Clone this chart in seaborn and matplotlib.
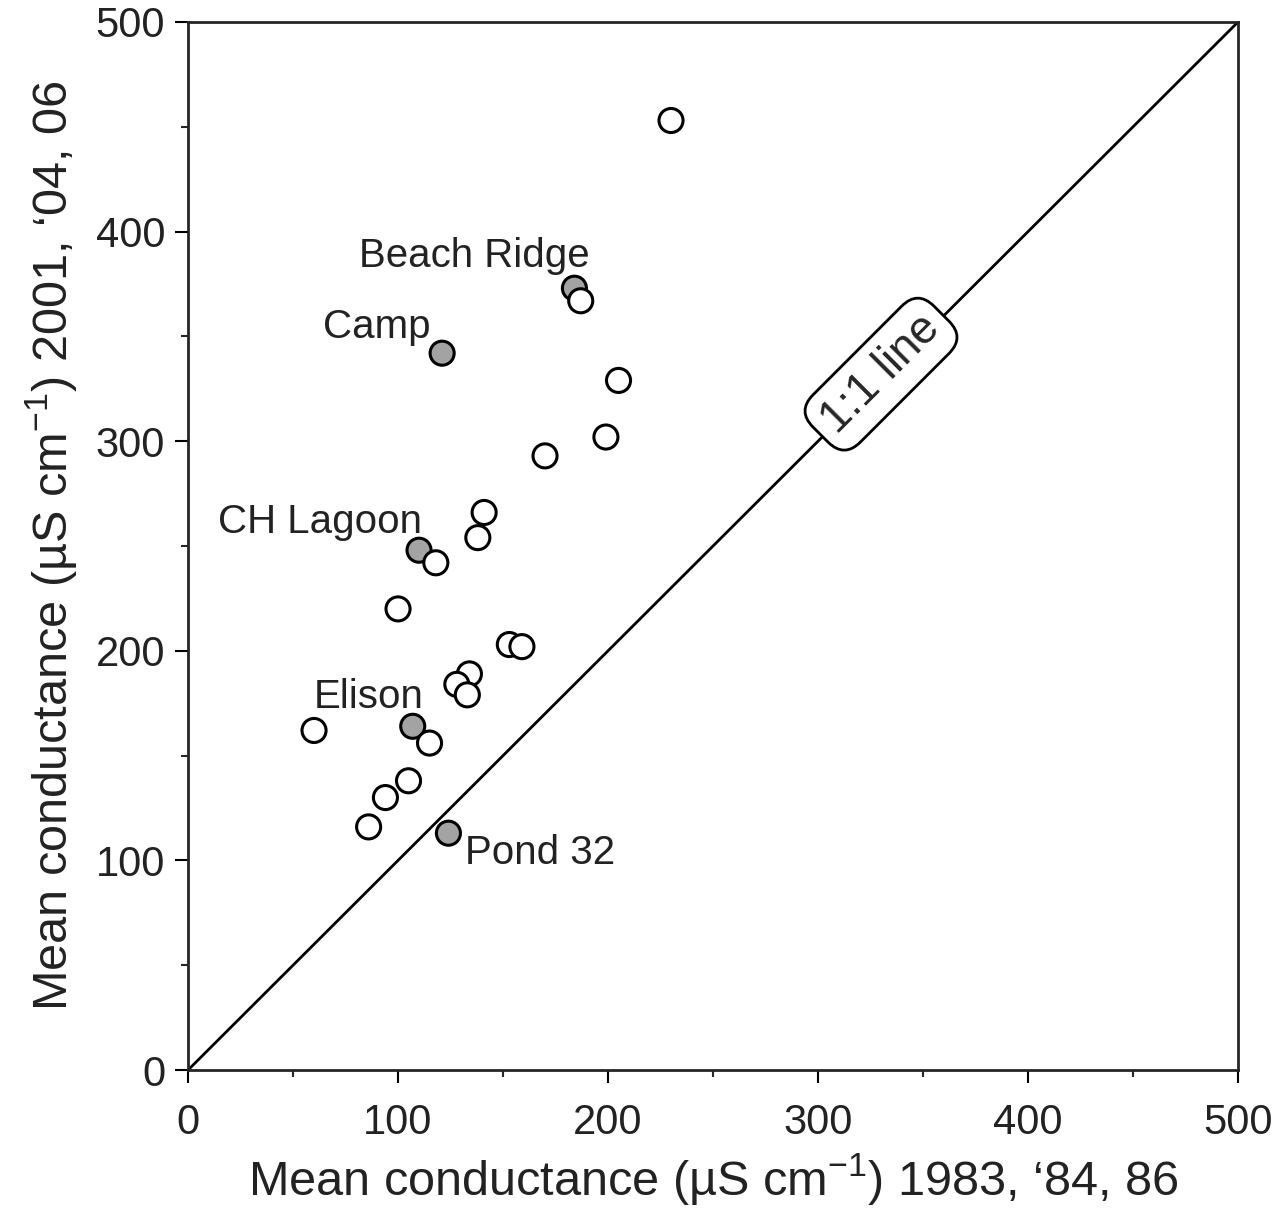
import pandas as pd
import matplotlib.pyplot as plt
import seaborn as sns
from matplotlib.ticker import MultipleLocator

# Lagos nomeados (pontos cinzas)
nomes = ["Beach Ridge", "Camp", "CH Lagoon", "Elison", "Pond 32"]
x_nomes = [184, 121, 110, 107, 124]
y_nomes = [373, 342, 248, 164, 113]

# Demais lagos (pontos abertos)
x_outros = [230, 187, 205, 199, 170, 141, 138, 118, 100, 153, 159, 134, 128, 133,
            60, 115, 105, 94, 86]
y_outros = [453, 367, 329, 302, 293, 266, 254, 242, 220, 203, 202, 189, 184, 179,
            162, 156, 138, 130, 116]

# deslocamento dos rótulos (pontos)
desloc = [(-72, 23), (-47, 19), (-71, 20), (-32, 21), (66, -14)]

df = pd.DataFrame({
    "x": x_nomes + x_outros,
    "y": y_nomes + y_outros,
    "tipo": ["nomeado"] * len(x_nomes) + ["outro"] * len(x_outros),
})

sns.set_style("ticks")
plt.rcParams["font.family"] = ["Liberation Sans", "DejaVu Sans"]
plt.rcParams["mathtext.fontset"] = "custom"
plt.rcParams["mathtext.rm"] = "Liberation Sans"

fig = plt.figure(figsize=(12.8, 12.15), dpi=100)
ax = fig.add_axes([0.1469, 0.1193, 0.8203, 0.8626])

ax.plot([0, 500], [0, 500], color="black", lw=2, zorder=1)

sns.scatterplot(data=df, x="x", y="y", hue="tipo",
                palette={"nomeado": "#a3a3a3", "outro": "white"},
                edgecolor="black", linewidth=2.2, s=300, legend=False,
                ax=ax, zorder=3)

for nome, xv, yv, d in zip(nomes, x_nomes, y_nomes, desloc):
    ax.annotate(nome, (xv, yv), xytext=d, textcoords="offset points",
                ha="center", va="center", fontsize=29, color="#222222")

ax.text(330, 332, "1:1 line", rotation=45, rotation_mode="anchor",
        ha="center", va="center", fontsize=33, zorder=4,
        bbox=dict(boxstyle="round,pad=0.25,rounding_size=0.5",
                  facecolor="white", edgecolor="black", lw=2))

ax.set_xlim(0, 500)
ax.set_ylim(0, 500)
ax.xaxis.set_major_locator(MultipleLocator(100))
ax.xaxis.set_minor_locator(MultipleLocator(50))
ax.yaxis.set_major_locator(MultipleLocator(100))
ax.yaxis.set_minor_locator(MultipleLocator(50))
ax.tick_params(which="major", direction="out", length=9.5, width=1.5,
               labelsize=30, pad=7, colors="black", labelcolor="#222222")
ax.tick_params(axis="x", which="major", pad=14)
ax.tick_params(which="minor", direction="out", length=5, width=1.5)
for s in ax.spines.values():
    s.set_visible(True)
    s.set_linewidth(2)

ax.set_xlabel("Mean conductance (\u00b5S cm$^{\\mathrm{-1}}$) 1983, \u201884, 86",
              fontsize=35, color="#222222", labelpad=6)
ax.set_ylabel("Mean conductance (\u00b5S cm$^{\\mathrm{-1}}$) 2001, \u201804, 06",
              fontsize=35, color="#222222", labelpad=12)

plt.savefig("out.png", dpi=100)
plt.close()
